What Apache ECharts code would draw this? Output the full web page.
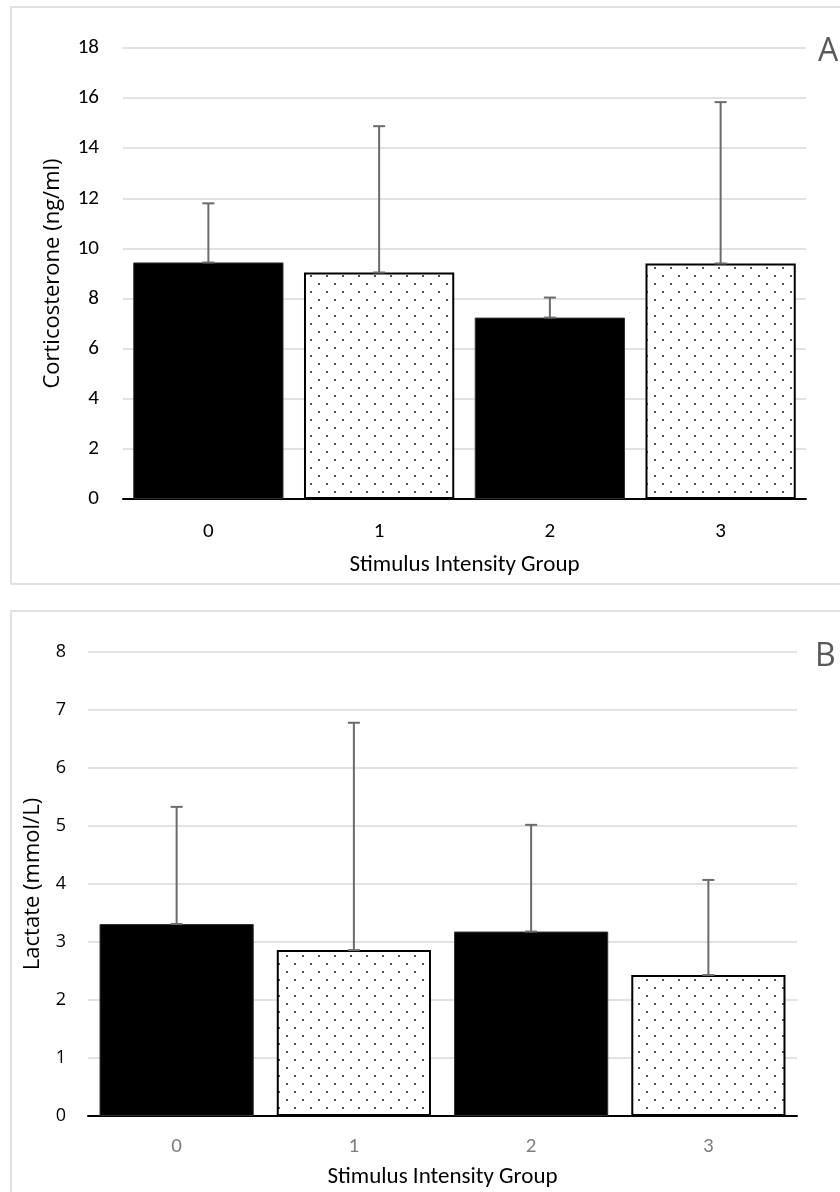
<!DOCTYPE html>
<html>
<head>
<meta charset="utf-8">
<script src="https://cdn.jsdelivr.net/npm/echarts@6/dist/echarts.min.js"></script>
<style>
html,body{margin:0;padding:0;background:#fff;}
#chart{width:840px;height:1192px;}
</style>
</head>
<body>
<div id="chart"></div>
<script>
// ---- data ----
const categories = ['0', '1', '2', '3'];
const corticoMean = [9.44, 9.04, 7.24, 9.40];
const corticoErr = [2.36, 5.84, 0.80, 6.44];
const lactateMean = [3.31, 2.86, 3.18, 2.43];
const lactateErr = [2.02, 3.92, 1.84, 1.64];
const corticoTicks = { min: 0, max: 18, interval: 2 };
const lactateTicks = { min: 0, max: 8, interval: 1 };

// ---- styles ----
const narrowFont = "Carlito, 'Liberation Sans Narrow', Lato, sans-serif";
const wideFont = "'Open Sans', 'Noto Sans', sans-serif";

function makeDots() {
  const c = document.createElement('canvas');
  c.width = 16; c.height = 16;
  const g = c.getContext('2d');
  g.fillStyle = '#ffffff';
  g.fillRect(0, 0, 16, 16);
  g.fillStyle = '#555555';
  g.fillRect(6, 3, 2, 2);
  g.fillRect(14, 11, 2, 2);
  return c;
}
const dotPattern = { image: makeDots(), repeat: 'repeat' };

function barData(values) {
  return values.map((v, i) => ({
    value: v,
    itemStyle: i % 2 === 0
      ? { color: '#000000', borderColor: '#303030', borderWidth: 1 }
      : { color: dotPattern, borderColor: '#000000', borderWidth: 2 }
  }));
}
function errData(means, errs) {
  return means.map((m, i) => [i, m, errs[i]]);
}
function renderErr(params, api) {
  const x = api.value(0), y = api.value(1), e = api.value(2);
  const p0 = api.coord([x, y]);
  const p1 = api.coord([x, y + e]);
  const st = { stroke: '#6b6b6b', lineWidth: 2 };
  return {
    type: 'group',
    children: [
      { type: 'line', shape: { x1: p0[0], y1: p0[1], x2: p1[0], y2: p1[1] }, style: st },
      { type: 'line', shape: { x1: p1[0] - 6, y1: p1[1], x2: p1[0] + 6, y2: p1[1] }, style: st },
      { type: 'line', shape: { x1: p0[0] - 6, y1: p0[1], x2: p0[0] + 6, y2: p0[1] }, style: st }
    ]
  };
}

const chart = echarts.init(document.getElementById('chart'), null, { renderer: 'canvas' });

const option = {
  backgroundColor: '#ffffff',
  animation: false,
  graphic: [
    { type: 'rect', shape: { x: 11, y: 7, width: 840, height: 577 }, style: { fill: 'none', stroke: '#d9d9d9', lineWidth: 1.5 }, z: -10 },
    { type: 'rect', shape: { x: 11, y: 611, width: 840, height: 600 }, style: { fill: 'none', stroke: '#d9d9d9', lineWidth: 1.5 }, z: -10 },
    { type: 'text', left: 818, top: 36, style: { text: 'A', font: "32px 'Open Sans'", fill: '#595959' } },
    { type: 'text', left: 815, top: 641, style: { text: 'B', font: "32px 'Open Sans'", fill: '#595959' } }
  ],
  grid: [
    { left: 123, right: 34, top: 48, bottom: 693 },
    { left: 88, right: 43, top: 652, bottom: 76 }
  ],
  xAxis: [
    {
      gridIndex: 0, type: 'category', data: categories,
      axisTick: { show: false },
      axisLine: { lineStyle: { color: '#000000', width: 2 } },
      axisLabel: { margin: 22, fontSize: 21, fontFamily: narrowFont, color: '#000000' },
      name: 'Stimulus Intensity Group', nameLocation: 'middle', nameGap: 55,
      nameTextStyle: { fontSize: 23, fontFamily: narrowFont, color: '#000000' }
    },
    {
      gridIndex: 1, type: 'category', data: categories,
      axisTick: { show: false },
      axisLine: { lineStyle: { color: '#000000', width: 2 } },
      axisLabel: { margin: 20, fontSize: 21, fontFamily: narrowFont, color: '#7f7f7f' },
      name: 'Stimulus Intensity Group', nameLocation: 'middle', nameGap: 50,
      nameTextStyle: { fontSize: 23, fontFamily: narrowFont, color: '#000000' }
    }
  ],
  yAxis: [
    {
      gridIndex: 0, type: 'value', min: corticoTicks.min, max: corticoTicks.max, interval: corticoTicks.interval,
      axisLine: { show: false }, axisTick: { show: false },
      splitLine: { lineStyle: { color: '#d9d9d9', width: 1.5 } },
      axisLabel: { margin: 24, fontSize: 21, fontFamily: narrowFont, color: '#000000' },
      name: 'Corticosterone (ng/ml)', nameLocation: 'middle', nameGap: 59, nameRotate: 90,
      nameTextStyle: { fontSize: 22, fontFamily: wideFont, color: '#000000' }
    },
    {
      gridIndex: 1, type: 'value', min: lactateTicks.min, max: lactateTicks.max, interval: lactateTicks.interval,
      axisLine: { show: false }, axisTick: { show: false },
      splitLine: { lineStyle: { color: '#d9d9d9', width: 1.5 } },
      axisLabel: { margin: 22, fontSize: 18, fontFamily: wideFont, color: '#000000' },
      name: 'Lactate (mmol/L)', nameLocation: 'middle', nameGap: 44, nameRotate: 90,
      nameTextStyle: { fontSize: 22, fontFamily: wideFont, color: '#000000' }
    }
  ],
  series: [
    { type: 'bar', xAxisIndex: 0, yAxisIndex: 0, data: barData(corticoMean), barCategoryGap: '12%', z: 2 },
    { type: 'custom', xAxisIndex: 0, yAxisIndex: 0, data: errData(corticoMean, corticoErr), renderItem: renderErr, z: 5 },
    { type: 'bar', xAxisIndex: 1, yAxisIndex: 1, data: barData(lactateMean), barCategoryGap: '13%', z: 2 },
    { type: 'custom', xAxisIndex: 1, yAxisIndex: 1, data: errData(lactateMean, lactateErr), renderItem: renderErr, z: 5 }
  ]
};
chart.setOption(option);
</script>
</body>
</html>
